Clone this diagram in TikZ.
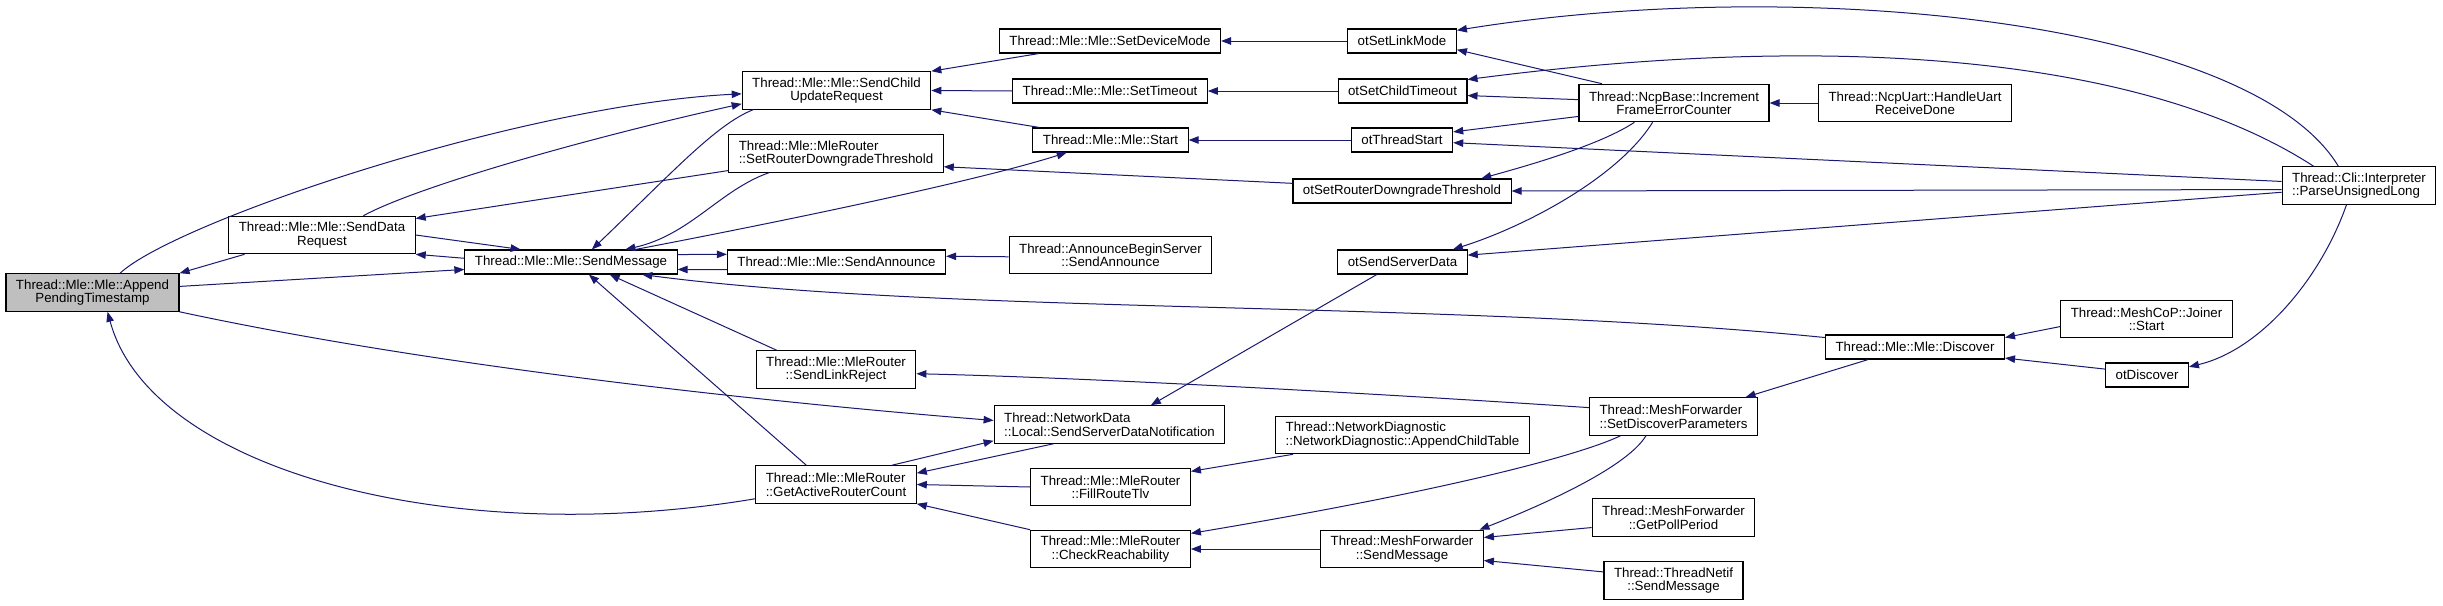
\documentclass[tikz,border=0pt]{standalone}
\usepackage{fontspec}
\setmainfont{Liberation Sans}
\usetikzlibrary{arrows.meta}

\definecolor{edgeblue}{HTML}{191970}
\definecolor{rootgray}{HTML}{BFBFBF}

\begin{document}
\begin{tikzpicture}[x=1pt,y=-1pt,
  fn/.style={draw=black,line width=1.1pt,fill=white,inner xsep=10pt,inner ysep=2pt,
    minimum height=24pt,font=\fontsize{13.3}{13.5}\selectfont},
  fnn/.style={fn,align=center,minimum height=37.5pt},
  fnl/.style={fn,align=left,minimum height=37.5pt},
  call/.style={draw=edgeblue,line width=1pt,-{Triangle[length=10pt,width=7.5pt]}}]
  \fill[white] (0,0) rectangle (2443,605);
  \useasboundingbox (0,0) rectangle (2443,605);

  \node[fnn,fill=rootgray] (append) at (92.5,292.5) {Thread::Mle::Mle::Append\\PendingTimestamp};
  \node[fnn] (senddata) at (322,235) {Thread::Mle::Mle::SendData\\Request};
  \node[fn]  (sendmsg)  at (571,262) {Thread::Mle::Mle::SendMessage};

  \node[fnn] (sendchild) at (836.5,90.5) {Thread::Mle::Mle::SendChild\\UpdateRequest};
  \node[fnl] (setrdt)    at (836,153.5)  {Thread::Mle::MleRouter\\::SetRouterDowngradeThreshold};
  \node[fn]  (sendann)   at (836.5,262)  {Thread::Mle::Mle::SendAnnounce};
  \node[fnn] (linkrej)   at (836,369.5)  {Thread::Mle::MleRouter\\::SendLinkReject};
  \node[fnl] (getactive) at (836,484.5)  {Thread::Mle::MleRouter\\::GetActiveRouterCount};

  \node[fn]  (setdev)     at (1110,41)     {Thread::Mle::Mle::SetDeviceMode};
  \node[fn]  (settimeout) at (1110,91)     {Thread::Mle::Mle::SetTimeout};
  \node[fn]  (start)      at (1110.5,140)  {Thread::Mle::Mle::Start};
  \node[fnn] (annbegin)   at (1110.5,255)  {Thread::AnnounceBeginServer\\::SendAnnounce};
  \node[fnl] (ssdn)       at (1109.5,424.5) {Thread::NetworkData\\::Local::SendServerDataNotification};
  \node[fnn] (fillroute)  at (1110.5,487)  {Thread::Mle::MleRouter\\::FillRouteTlv};
  \node[fnn] (checkreach) at (1110.5,549)  {Thread::Mle::MleRouter\\::CheckReachability};

  \node[fn]  (otlinkmode) at (1402,41)    {otSetLinkMode};
  \node[fn]  (otchildto)  at (1402.5,91)  {otSetChildTimeout};
  \node[fn]  (otthread)   at (1402,140)   {otThreadStart};
  \node[fn]  (otsetrdt)   at (1402,191)   {otSetRouterDowngradeThreshold};
  \node[fn]  (otserver)   at (1402.5,262) {otSendServerData};
  \node[fnl] (appchild)   at (1402.5,435) {Thread::NetworkDiagnostic\\::NetworkDiagnostic::AppendChildTable};
  \node[fnn] (mfsend)     at (1402,549)   {Thread::MeshForwarder\\::SendMessage};

  \node[fnn] (incframe)  at (1674,103)   {Thread::NcpBase::Increment\\FrameErrorCounter};
  \node[fnl] (setdisc)   at (1673.5,416.5) {Thread::MeshForwarder\\::SetDiscoverParameters};
  \node[fnn] (getpoll)   at (1673.5,517.5) {Thread::MeshForwarder\\::GetPollPeriod};
  \node[fnn] (netifsend) at (1673.5,580.5) {Thread::ThreadNetif\\::SendMessage};

  \node[fnn] (uartdone)    at (1915,103)   {Thread::NcpUart::HandleUart\\ReceiveDone};
  \node[fn]  (discover)    at (1915,347)   {Thread::Mle::Mle::Discover};
  \node[fnn] (joinerstart) at (2146.5,319) {Thread::MeshCoP::Joiner\\::Start};
  \node[fn]  (otdiscover)  at (2147,375)   {otDiscover};
  \node[fnl] (parse)       at (2359,185.5) {Thread::Cli::Interpreter\\::ParseUnsignedLong};

  \draw[call] (senddata.194) -- (append.north east);
  \draw[call] (append.35) .. controls (175,222) and (520,105) .. (sendchild.182);
  \draw[call] (senddata.25) .. controls (420,185) and (600,135) .. (sendchild.188);
  \draw[call] (setrdt.189) -- (senddata.10);
  \draw[call] (senddata.east) -- (sendmsg.166);
  \draw[call] (sendmsg.178) -- (senddata.south east);
  \draw[call] (append.4) -- (sendmsg.184);
  \draw[call] (sendchild.193) .. controls (715,125) and (670,175) .. (sendmsg.31);
  \draw[call] (setrdt.196) .. controls (720,190) and (690,235) .. (sendmsg.13);
  \draw[call] (sendmsg.11) .. controls (800,218) and (980,180) .. (start.196);
  \draw[call] (sendmsg.4) -- (sendann.176);
  \draw[call] (sendann.184) -- (sendmsg.356);
  \draw[call] (discover.174) .. controls (1450,300) and (950,315) .. (sendmsg.350);
  \draw[call] (linkrej.162) -- (sendmsg.342);
  \draw[call] (getactive.147) -- (sendmsg.325);
  \draw[call] (getactive.190) .. controls (450,550) and (150,470) .. (append.308);
  \draw[call] (append.south east) .. controls (450,370) and (800,405) .. (ssdn.178);

  \draw[call] (setdev.190) -- (sendchild.north east);
  \draw[call] (settimeout.west) -- (sendchild.east);
  \draw[call] (start.170) -- (sendchild.south east);
  \draw[call] (otlinkmode.west) -- (setdev.east);
  \draw[call] (otchildto.west) -- (settimeout.east);
  \draw[call] (otthread.west) -- (start.east);
  \draw[call] (otsetrdt.176) -- (setrdt.353);
  \draw[call] (annbegin.181) -- (sendann.3);
  \draw[call] (otserver.206) -- (ssdn.25);
  \draw[call] (setdisc.174) .. controls (1400,395) and (1100,378) .. (linkrej.357);
  \draw[call] (getactive.19) -- (ssdn.188);
  \draw[call] (ssdn.199) -- (getactive.8);
  \draw[call] (fillroute.west) -- (getactive.east);
  \draw[call] (checkreach.north west) -- (getactive.south east);
  \draw[call] (appchild.190) -- (fillroute.11);
  \draw[call] (setdisc.200) .. controls (1580,455) and (1450,490) .. (checkreach.11);
  \draw[call] (mfsend.west) -- (checkreach.east);
  \draw[call] (setdisc.215) .. controls (1625,470) and (1530,510) .. (mfsend.14);
  \draw[call] (getpoll.187) -- (mfsend.8);
  \draw[call] (netifsend.173) -- (mfsend.352);

  \draw[call] (uartdone.west) -- (incframe.east);
  \draw[call] (incframe.165) -- (otlinkmode.351);
  \draw[call] (incframe.178) -- (otchildto.356);
  \draw[call] (incframe.188) -- (otthread.9);
  \draw[call] (incframe.206) .. controls (1600,145) and (1530,165) .. (otsetrdt.9);
  \draw[call] (incframe.222) .. controls (1620,175) and (1530,225) .. (otserver.14);
  \draw[call] (parse.137) .. controls (2250,20) and (1800,-25) .. (otlinkmode.11);
  \draw[call] (parse.157) .. controls (2150,60) and (1850,30) .. (otchildto.10);
  \draw[call] (parse.177) -- (otthread.357);
  \draw[call] (parse.183) -- (otsetrdt.east);
  \draw[call] (parse.185) -- (otserver.6);
  \draw[call] (parse.237) .. controls (2320,280) and (2260,350) .. (otdiscover.11);
  \draw[call] (joinerstart.185) -- (discover.6);
  \draw[call] (otdiscover.172) -- (discover.353);
  \draw[call] (discover.195) -- (setdisc.15);
\end{tikzpicture}
\end{document}
